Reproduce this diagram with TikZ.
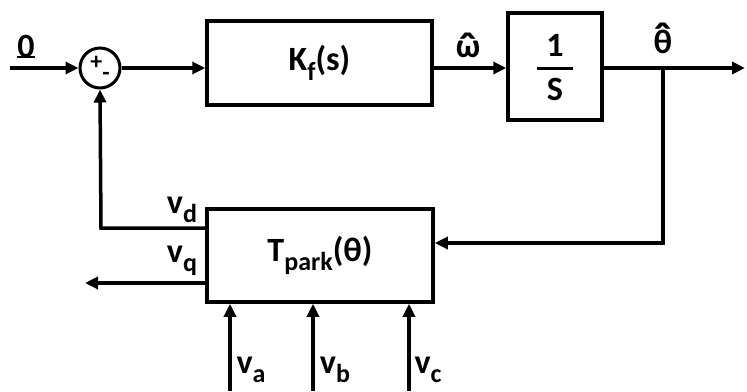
\documentclass[tikz,border=0pt]{standalone}
\usepackage{fontspec}
\setmainfont{Carlito}
\usetikzlibrary{arrows.meta}
\newcommand\mysub[1]{\raisebox{-0.28em}{\fontsize{26}{28}\selectfont #1}}
\newcommand\myhat[2]{\ooalign{#2\cr\hidewidth\raisebox{#1}{\scalebox{1.4}{\char"02C6}}\hidewidth\cr}}
\begin{document}
\begin{tikzpicture}[x=1pt,y=-1pt,
  every node/.style={font=\fontsize{34}{36}\selectfont\bfseries, inner sep=0pt},
  blk/.style={draw, line width=3.5pt, fill=none},
  wire/.style={line width=3.5pt},
  arr/.style={wire, -{Triangle[length=13pt,width=12pt]}},
  lbl/.style={font=\fontsize{34}{36}\selectfont\bfseries}]
\useasboundingbox (0,0) rectangle (747,391);
% blocks
\node[blk, minimum width=225pt, minimum height=84pt] (kf) at (319.5,63) {K\mysub{f}(s)};
\node[blk, minimum width=94pt, minimum height=107pt] (int) at (555,66.5) {};
\node (one) at (555,45) {1};
\node (ess) at (555,89) {S};
\draw[line width=3pt] (537,68) -- (573,68);
\node[blk, minimum width=226pt, minimum height=93pt] (park) at (320,255.5) {T\mysub{park}(θ)};
% summing junction
\node[draw, circle, line width=3pt, minimum size=40pt] (sum) at (100,68) {};
\node[font=\fontsize{24}{26}\selectfont\bfseries] (signs) at (100,68) {+\raisebox{-0.45em}{-}};
% coordinates
\coordinate (in) at (10,68);
\coordinate (out) at (745,68);
\coordinate (br) at (663,68);
\coordinate (brd) at (663,243);
\coordinate (fbc) at (101,228);
\coordinate (vqend) at (85,283);
\coordinate (va0) at (230,391);
\coordinate (vb0) at (313,391);
\coordinate (vc0) at (409,391);
% wires
\draw[arr] (in) -- (sum.west);
\draw[arr] (sum.east) -- (kf.west |- sum.east);
\draw[arr] (kf.east |- 0,68) -- (int.west |- 0,68);
\draw[arr] (int.east |- 0,68) -- (out);
\draw[arr] (br) -- (brd) -- (park.east |- brd);
\draw[arr] (park.west |- fbc) -- (fbc) -- (sum.south);
\draw[arr] (park.west |- vqend) -- (vqend);
\draw[arr] (va0) -- (va0 |- park.south);
\draw[arr] (vb0) -- (vb0 |- park.south);
\draw[arr] (vc0) -- (vc0 |- park.south);
% labels
\node[lbl] (zero) at (26,46) {0};
\draw[line width=1.5pt] (17,57) -- (35,57);
\node[lbl, anchor=base] (omega) at (468,57) {\myhat{-0.25em}{ω}};
\node[lbl, anchor=base] (theta) at (663,53) {\myhat{-0.06em}{θ}};
\node[lbl] (vd) at (182,210) {v\mysub{d}};
\node[lbl] (vq) at (182,261) {v\mysub{q}};
\node[lbl] (va) at (251,370) {v\mysub{a}};
\node[lbl] (vb) at (335,370) {v\mysub{b}};
\node[lbl] (vc) at (428,370) {v\mysub{c}};
\end{tikzpicture}
\end{document}
